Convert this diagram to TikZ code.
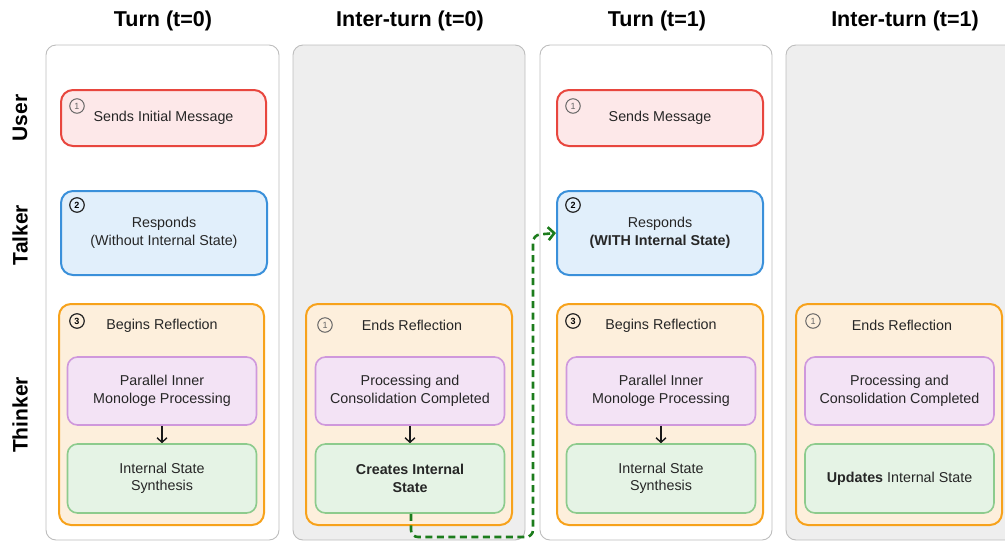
\documentclass[tikz,border=0pt]{standalone}
\usepackage{fontspec}
\setmainfont{Liberation Sans}
\usetikzlibrary{arrows.meta}
\definecolor{panelline}{HTML}{BDBDBD}
\definecolor{panelgray}{HTML}{EEEEEE}
\definecolor{userline}{HTML}{E8463E}
\definecolor{userfill}{HTML}{FDE8E9}
\definecolor{talkline}{HTML}{3A90DA}
\definecolor{talkfill}{HTML}{E1EFFB}
\definecolor{thinkline}{HTML}{F7A21B}
\definecolor{thinkfill}{HTML}{FDEFDC}
\definecolor{procline}{HTML}{CF98DC}
\definecolor{procfill}{HTML}{F3E3F5}
\definecolor{stateline}{HTML}{8DCB8D}
\definecolor{statefill}{HTML}{E5F3E5}
\definecolor{linkgreen}{HTML}{1C7C1C}
\definecolor{numgray}{HTML}{666666}
\tikzset{
  panel/.style={draw=panelline, line width=0.9pt, rounded corners=10pt},
  box/.style={rounded corners=12pt, line width=2pt, align=center, font=\fontsize{14.3}{17.5}\selectfont, text=black!85},
  userbox/.style={box, draw=userline, fill=userfill},
  talkbox/.style={box, draw=talkline, fill=talkfill},
  thinkbox/.style={box, draw=thinkline, fill=thinkfill, minimum width=205pt, minimum height=221pt},
  procbox/.style={box, line width=1.6pt, rounded corners=10pt, draw=procline, fill=procfill, minimum width=189pt, minimum height=68pt},
  statebox/.style={box, line width=1.6pt, rounded corners=10pt, draw=stateline, fill=statefill, minimum width=189pt, minimum height=69pt},
  numdark/.style={circle, draw=black!85, line width=1.2pt, inner sep=0pt, minimum size=14.5pt, font=\fontsize{9}{9}\selectfont\bfseries},
  numlight/.style={circle, draw=numgray, text=numgray, line width=1pt, inner sep=0pt, minimum size=14.5pt, font=\fontsize{9}{9}\selectfont},
  boxtitle/.style={font=\fontsize{14.3}{17.5}\selectfont, text=black!85},
  colhead/.style={font=\fontsize{21.5}{24}\selectfont\bfseries},
  rowhead/.style={font=\fontsize{21}{24}\selectfont\bfseries, rotate=90},
  step arrow/.style={-{Straight Barb[length=4.5pt,width=10pt]}, line width=1.4pt, black!90},
  link/.style={draw=linkgreen, line width=2.6pt, dash pattern=on 7pt off 4.5pt, rounded corners=7pt,
    -{Straight Barb[length=6pt,width=13pt]}}
}
\begin{document}
\begin{tikzpicture}[x=1pt,y=-1pt]
\useasboundingbox (0,0) rectangle (1005,542);
\clip (0,0) rectangle (1005,542);

% column panels
\node[panel, minimum width=233pt, minimum height=495pt, fill=white] (p1) at (162.5,292.5) {};
\node[panel, minimum width=232pt, minimum height=495pt, fill=panelgray] (p2) at (409,292.5) {};
\node[panel, minimum width=232pt, minimum height=495pt, fill=white] (p3) at (656,292.5) {};
\node[panel, minimum width=232pt, minimum height=495pt, fill=panelgray] (p4) at (902,292.5) {};

% column headings
\node[colhead] (h1) at (163,21) {Turn (t=0)};
\node[colhead] (h2) at (410,21) {Inter-turn (t=0)};
\node[colhead] (h3) at (657,21) {Turn (t=1)};
\node[colhead] (h4) at (905,21) {Inter-turn (t=1)};

% row headings
\node[rowhead] (rU) at (20,118) {User};
\node[rowhead] (rT) at (20,235) {Talker};
\node[rowhead] (rK) at (20,415) {Thinker};

% ---- Turn (t=0)
\node[userbox, minimum width=205pt, minimum height=56pt] (u1) at (163.5,118) {Sends Initial Message};
\node[numlight] (u1n) at (77,106) {1};
\node[talkbox, minimum width=206pt, minimum height=84pt] (t1) at (164,233) {Responds\\(Without Internal State)};
\node[numdark] (t1n) at (77,205) {2};
\node[thinkbox] (k1) at (161.5,414.5) {};
\node[numdark] (k1n) at (77,321) {3};
\node[boxtitle] (k1t) at (162,325.5) {Begins Reflection};
\node[procbox] (m1) at (162,391) {Parallel Inner\\Monologe Processing};
\node[statebox] (s1) at (162,478.5) {Internal State\\Synthesis};
\draw[step arrow] (m1) -- (s1);

% ---- Inter-turn (t=0)
\node[thinkbox, minimum width=206pt] (k2) at (409,414.5) {};
\node[numlight] (k2n) at (325,325) {1};
\node[boxtitle] (k2t) at (412,325.5) {Ends Reflection};
\node[procbox] (m2) at (410,391) {Processing and\\Consolidation Completed};
\node[statebox] (s2) at (410,478.5) {\bfseries Creates Internal\\\bfseries State};
\draw[step arrow] (m2) -- (s2);

% ---- Turn (t=1)
\node[userbox, minimum width=206pt, minimum height=56pt] (u3) at (660,118) {Sends Message};
\node[numlight] (u3n) at (573,106) {1};
\node[talkbox, minimum width=206pt, minimum height=84pt] (t3) at (660,233) {Responds\\\bfseries(WITH Internal State)};
\node[numdark] (t3n) at (573,205) {2};
\node[thinkbox, minimum width=206pt] (k3) at (660,414.5) {};
\node[numdark] (k3n) at (573,321) {3};
\node[boxtitle] (k3t) at (661,325.5) {Begins Reflection};
\node[procbox] (m3) at (661,391) {Parallel Inner\\Monologe Processing};
\node[statebox] (s3) at (661,478.5) {Internal State\\Synthesis};
\draw[step arrow] (m3) -- (s3);

% ---- Inter-turn (t=1)
\node[thinkbox, minimum width=206pt] (k4) at (899,414.5) {};
\node[numlight] (k4n) at (813,321) {1};
\node[boxtitle] (k4t) at (902,325.5) {Ends Reflection};
\node[procbox] (m4) at (899.5,391) {Processing and\\Consolidation Completed};
\node[statebox] (s4) at (899.5,478.5) {{\bfseries Updates} Internal State};

% internal state carried into the next turn
\coordinate (c1) at (411,537);
\coordinate (c2) at (533,537);
\coordinate (c3) at (533,235);
\draw[link] (s2.south -| c1) -- (c1) -- (c2) -- (c3) -- (t3.west);
\end{tikzpicture}
\end{document}
